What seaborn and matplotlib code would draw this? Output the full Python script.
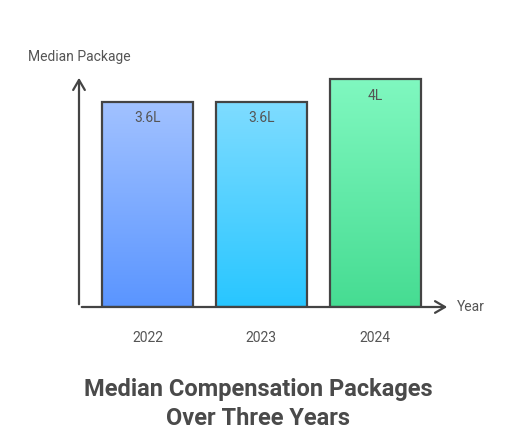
import numpy as np
import pandas as pd
import matplotlib
matplotlib.use("Agg")
import matplotlib.pyplot as plt
from matplotlib.colors import to_rgb
import seaborn as sns

years = ["2022", "2023", "2024"]
packages = [3.6, 3.6, 4.0]
labels = ["3.6L", "3.6L", "4L"]
top_colors = ["#a2c2ff", "#7fdcff", "#80f8c0"]
bottom_colors = ["#5a95ff", "#28c6ff", "#46dc92"]

sns.set_theme(style="white")
plt.rcParams["font.family"] = ["Roboto", "DejaVu Sans"]

W, H = 512, 448
fig = plt.figure(figsize=(W / 100, H / 100), dpi=100)
x0, x1, ybot, ytop = 79, 450, 307, 75
ax = fig.add_axes([x0 / W, 1 - ybot / H, (x1 - x0) / W, (ybot - ytop) / H])

df = pd.DataFrame({"Year": years, "Package": packages})
sns.barplot(data=df, x="Year", y="Package", ax=ax, width=0.8,
            color="white", edgecolor="#444444", linewidth=1.6, zorder=2)

for i, p in enumerate(ax.patches):
    p.set_facecolor("none")
    bx, by = p.get_x(), p.get_y()
    bw, bh = p.get_width(), p.get_height()
    c0 = np.array(to_rgb(top_colors[i]))
    c1 = np.array(to_rgb(bottom_colors[i]))
    t = np.linspace(0, 1, 256)[:, None]
    grad = (c0 * (1 - t) + c1 * t)[:, None, :]
    im = ax.imshow(grad, extent=[bx, bx + bw, by, by + bh], origin="upper",
                   aspect="auto", zorder=1, interpolation="bilinear")
    im.set_clip_path(p)
    ax.text(bx + bw / 2, bh - 0.29, labels[i], ha="center", va="center",
            fontsize=10, color="#555555", zorder=3)

ax.set_xlim(-0.6, 2.655)
ax.set_ylim(0, 4.07)
for s in ax.spines.values():
    s.set_visible(False)
ax.set_yticks([])
ax.set_xlabel("")
ax.set_ylabel("")
ax.tick_params(axis="x", length=0, pad=17, labelsize=10, labelcolor="#555555")

arrow_kw = dict(arrowstyle="->,head_length=0.6,head_width=0.35", color="#444444", lw=1.6)
ax.annotate("", xy=(1, 0), xytext=(0, 0), xycoords="axes fraction",
            arrowprops=arrow_kw, annotation_clip=False)
ax.annotate("", xy=(0, 1), xytext=(0, 0), xycoords="axes fraction",
            arrowprops=arrow_kw, annotation_clip=False)

fig.text(457 / W, 1 - 307 / H, "Year", ha="left", va="center", fontsize=10, color="#555555")
fig.text(28 / W, 1 - 57 / H, "Median Package", ha="left", va="center", fontsize=10, color="#555555")
fig.text(258 / W, 1 - 404 / H, "Median Compensation Packages\nOver Three Years",
         ha="center", va="center", fontsize=17, fontweight="bold", color="#4a4a4a",
         linespacing=1.28)

fig.savefig("out.png", dpi=100)
